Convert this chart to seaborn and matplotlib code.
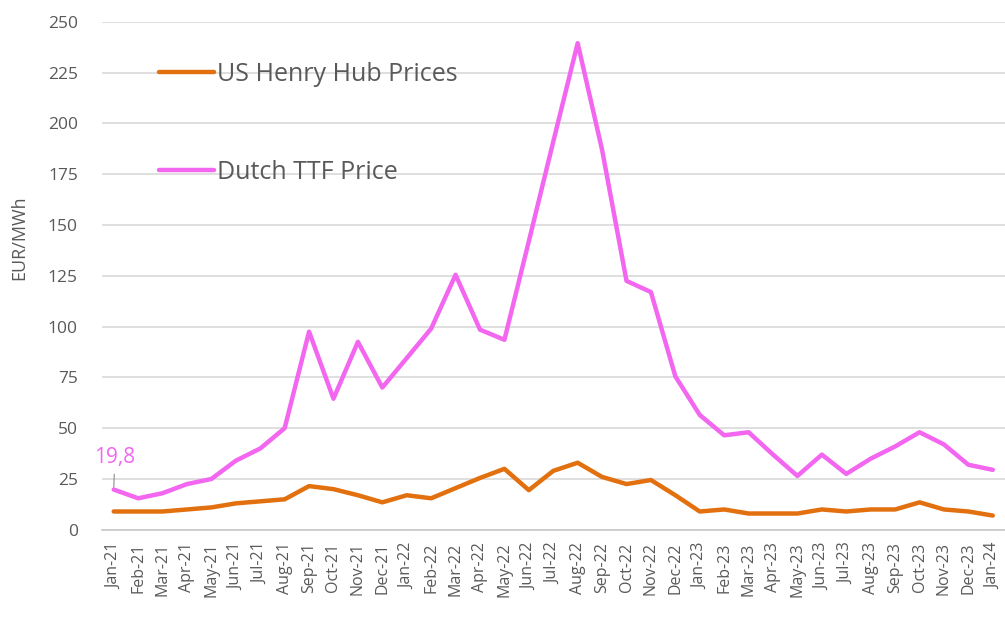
import matplotlib
matplotlib.use("Agg")
import matplotlib.pyplot as plt
from matplotlib.lines import Line2D
import numpy as np
import pandas as pd
import seaborn as sns

months = [
    "Jan-21", "Feb-21", "Mar-21", "Apr-21", "May-21", "Jun-21", "Jul-21", "Aug-21",
    "Sep-21", "Oct-21", "Nov-21", "Dec-21", "Jan-22", "Feb-22", "Mar-22", "Apr-22",
    "May-22", "Jun-22", "Jul-22", "Aug-22", "Sep-22", "Oct-22", "Nov-22", "Dec-22",
    "Jan-23", "Feb-23", "Mar-23", "Apr-23", "May-23", "Jun-23", "Jul-23", "Aug-23",
    "Sep-23", "Oct-23", "Nov-23", "Dec-23", "Jan-24",
]
henry_hub = [
    9, 9, 9, 10, 11, 13, 14, 15, 21.5, 20, 17, 13.5, 17, 15.5, 20.5, 25.5,
    30, 19.5, 29, 33, 26, 22.5, 24.5, 17, 9, 10, 8, 8, 8, 10, 9, 10,
    10, 13.5, 10, 9, 7,
]
dutch_ttf = [
    19.8, 15.5, 18, 22.5, 25, 34, 40, 50, 97.5, 64.5, 92.5, 70, 84.5, 99, 125.5, 98.5,
    93.5, 142, 191, 239.5, 187, 122.5, 117, 75.5, 56.5, 46.5, 48, 37, 26.5, 37, 27.5, 35,
    41, 48, 42, 32, 29.5,
]
series_names = ["US Henry Hub Prices", "Dutch TTF Price"]
colors = ["#E2700E", "#F266F0"]

df = pd.DataFrame({
    "month": months * 2,
    "price": henry_hub + dutch_ttf,
    "series": [series_names[0]] * len(months) + [series_names[1]] * len(months),
})

sns.set_theme(style="white")
plt.rcParams["font.family"] = ["Open Sans", "DejaVu Sans"]

fig = plt.figure(figsize=(10.05, 6.24), dpi=100)
ax = fig.add_axes([0.101, 0.151, 0.899, 0.814])

sns.lineplot(
    data=df, x="month", y="price", hue="series", palette=colors,
    linewidth=3.2, sort=False, legend=False, ax=ax,
)

grey = "#595959"
ax.set_xlim(-0.5, len(months) - 0.5)
ax.set_ylim(0, 250)
ax.set_yticks(np.arange(0, 251, 25))
ax.yaxis.grid(True, color="#D9D9D9", linewidth=1.2)
ax.set_axisbelow(True)
for s in ["top", "right", "left"]:
    ax.spines[s].set_visible(False)
ax.spines["bottom"].set_color("#C8C8C8")
ax.spines["bottom"].set_linewidth(1.2)

ax.set_xticks(range(len(months)))
ax.set_xticklabels(months, rotation=90, color=grey, fontsize=11.5)
ax.set_xticks(np.arange(-0.5, len(months), 1), minor=True)
ax.tick_params(axis="x", which="major", length=0, pad=9)
ax.tick_params(axis="x", which="minor", length=6, color="#C8C8C8", width=1.2)
ax.tick_params(axis="y", length=0, labelcolor=grey, labelsize=12.5, pad=17)

ax.set_xlabel("")
ax.set_ylabel("EUR/MWh", color=grey, fontsize=13)
ax.yaxis.set_label_coords(-0.081, 0.575)

# first-value label for TTF
ax.annotate(
    "19,8", xy=(0, dutch_ttf[0] + 0.5), xytext=(0.05, 35.5),
    color=colors[1], fontsize=15, ha="center", va="center",
    arrowprops=dict(arrowstyle="-", color="#8C8C8C", lw=0.8, shrinkA=2, shrinkB=1),
)

handles = [Line2D([0], [0], color=c, lw=3.2) for c in colors]
leg = ax.legend(
    handles, series_names, loc="upper left", bbox_to_anchor=(0.039, 0.965),
    frameon=False, fontsize=18, labelspacing=2.9, handlelength=2.2,
    handletextpad=0.1,
)
for t in leg.get_texts():
    t.set_color(grey)

fig.savefig("out.png", dpi=100)
